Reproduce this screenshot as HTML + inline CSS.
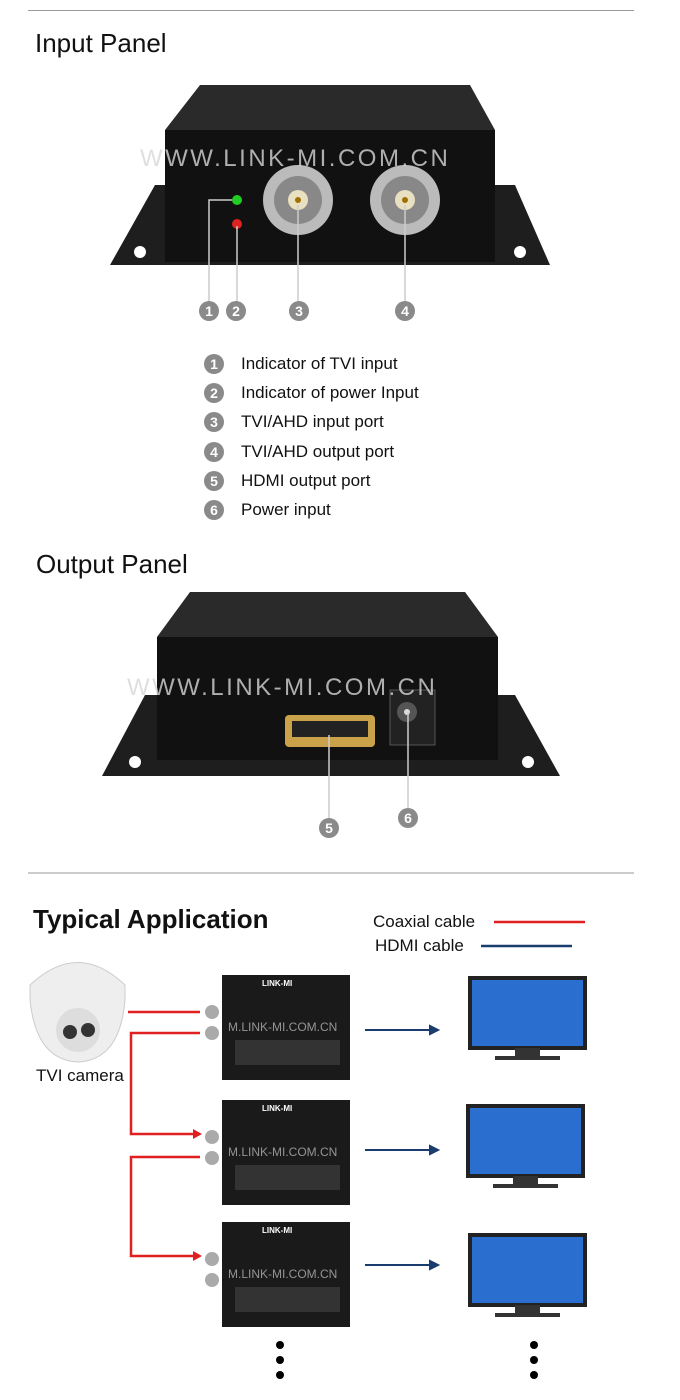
<!DOCTYPE html>
<html><head><meta charset="utf-8"><style>
body{margin:0;width:680px;height:1400px;background:#fff;position:relative;font-family:"Liberation Sans",sans-serif;overflow:hidden}
.a{position:absolute}
.t{position:absolute;white-space:nowrap;color:#111}
.n{position:absolute;width:20px;height:20px;border-radius:50%;background:#8a8a8a;color:#fff;font-weight:bold;font-size:14px;text-align:center;line-height:20px}
.wm{position:absolute;color:rgba(215,215,215,.8);font-size:24px;letter-spacing:2.5px;font-family:"Liberation Sans",sans-serif}
</style></head><body>
<div class="a" style="left:28px;top:10px;width:606px;height:1px;background:#999"></div>
<div class="t" style="left:35px;top:28px;font-size:26px">Input Panel</div>
<svg class="a" style="left:0;top:0" width="680" height="1400">
<polygon points="155,185 165,185 165,262 495,262 495,185 515,185 550,265 110,265" fill="#1e1e1e"/>
<circle cx="140" cy="252" r="6" fill="#fff"/><circle cx="520" cy="252" r="6" fill="#fff"/>
<polygon points="200,85 470,85 495,130 165,130" fill="#2a2a2a"/>
<rect x="165" y="130" width="330" height="132" fill="#111"/>
<circle cx="298" cy="200" r="35" fill="#bbb"/><circle cx="298" cy="200" r="24" fill="#888"/><circle cx="298" cy="200" r="10" fill="#e8e0c0"/><circle cx="298" cy="200" r="3" fill="#a07000"/>
<circle cx="405" cy="200" r="35" fill="#bbb"/><circle cx="405" cy="200" r="24" fill="#888"/><circle cx="405" cy="200" r="10" fill="#e8e0c0"/><circle cx="405" cy="200" r="3" fill="#a07000"/>
<circle cx="237" cy="200" r="5" fill="#2c2"/><circle cx="237" cy="224" r="5" fill="#d22"/>
<g stroke="#ccc" stroke-width="1.5" fill="none">
<polyline points="232,200 209,200 209,302"/><line x1="237" y1="226" x2="237" y2="302"/>
<line x1="298" y1="205" x2="298" y2="302"/><line x1="405" y1="205" x2="405" y2="302"/></g>
<polygon points="145,695 157,695 157,760 498,760 498,695 515,695 560,776 102,776" fill="#1e1e1e"/>
<circle cx="135" cy="762" r="6" fill="#fff"/><circle cx="528" cy="762" r="6" fill="#fff"/>
<polygon points="190,592 465,592 498,637 157,637" fill="#2a2a2a"/>
<rect x="157" y="637" width="341" height="123" fill="#111"/>
<rect x="285" y="715" width="90" height="32" rx="4" fill="#c9a24a"/><rect x="292" y="721" width="76" height="16" fill="#222"/>
<rect x="390" y="690" width="45" height="55" fill="#222" stroke="#555"/><circle cx="407" cy="712" r="10" fill="#555"/><circle cx="407" cy="712" r="3" fill="#ddd"/>
<g stroke="#ccc" stroke-width="1.5"><line x1="329" y1="735" x2="329" y2="818"/><line x1="408" y1="712" x2="408" y2="808"/></g>
<line x1="28" y1="873" x2="634" y2="873" stroke="#999"/>
<line x1="494" y1="922" x2="585" y2="922" stroke="#e02020" stroke-width="2.5"/>
<line x1="481" y1="946" x2="572" y2="946" stroke="#1a3d70" stroke-width="2.5"/>
<path d="M30,985 Q78,940 125,985 L125,1000 Q120,1060 78,1062 Q36,1060 30,1000Z" fill="#eee" stroke="#ccc"/>
<circle cx="78" cy="1030" r="22" fill="#ddd"/><circle cx="70" cy="1032" r="7" fill="#333"/><circle cx="88" cy="1030" r="7" fill="#333"/>
<g id="d">
<rect x="222" y="975" width="128" height="105" fill="#1a1a1a"/><rect x="235" y="1040" width="105" height="25" fill="#333"/>
<circle cx="212" cy="1012" r="7" fill="#aaa"/><circle cx="212" cy="1033" r="7" fill="#aaa"/>
</g>
<use href="#d" y="125"/><use href="#d" y="247"/>
<g id="m"><rect x="470" y="978" width="115" height="70" fill="#2a6fd0" stroke="#222" stroke-width="4"/><rect x="515" y="1048" width="25" height="8" fill="#333"/><rect x="495" y="1056" width="65" height="4" fill="#333"/></g>
<use href="#m" x="-2" y="128"/><use href="#m" y="257"/>
<g stroke="#1a3d70" stroke-width="2" fill="#1a3d70">
<line x1="365" y1="1030" x2="432" y2="1030"/><polygon points="438,1030 430,1026 430,1034"/>
<line x1="365" y1="1150" x2="432" y2="1150"/><polygon points="438,1150 430,1146 430,1154"/>
<line x1="365" y1="1265" x2="432" y2="1265"/><polygon points="438,1265 430,1261 430,1269"/></g>
<g stroke="#e02020" stroke-width="2.5" fill="none">
<line x1="128" y1="1012" x2="200" y2="1012"/>
<polyline points="200,1033 131,1033 131,1134 195,1134"/>
<polyline points="200,1157 131,1157 131,1256 195,1256"/></g>
<polygon points="202,1134 193,1129 193,1139" fill="#e02020"/><polygon points="202,1256 193,1251 193,1261" fill="#e02020"/>
<g fill="#000"><circle cx="280" cy="1345" r="4"/><circle cx="280" cy="1360" r="4"/><circle cx="280" cy="1375" r="4"/>
<circle cx="534" cy="1345" r="4"/><circle cx="534" cy="1360" r="4"/><circle cx="534" cy="1375" r="4"/></g>
</svg>
<div class="wm" style="left:140px;top:145px">WWW.LINK-MI.COM.CN</div>
<div class="wm" style="left:127px;top:674px">WWW.LINK-MI.COM.CN</div>
<div class="n" style="left:199px;top:301px">1</div><div class="n" style="left:226px;top:301px">2</div>
<div class="n" style="left:289px;top:301px">3</div><div class="n" style="left:395px;top:301px">4</div>
<div class="n" style="left:319px;top:818px">5</div><div class="n" style="left:398px;top:808px">6</div>
<div class="n" style="left:204px;top:354px">1</div><div class="t" style="left:241px;top:354px;font-size:17px">Indicator of TVI input</div>
<div class="n" style="left:204px;top:383px">2</div><div class="t" style="left:241px;top:383px;font-size:17px">Indicator of power Input</div>
<div class="n" style="left:204px;top:412px">3</div><div class="t" style="left:241px;top:412px;font-size:17px">TVI/AHD input port</div>
<div class="n" style="left:204px;top:442px">4</div><div class="t" style="left:241px;top:442px;font-size:17px">TVI/AHD output port</div>
<div class="n" style="left:204px;top:471px">5</div><div class="t" style="left:241px;top:471px;font-size:17px">HDMI output port</div>
<div class="n" style="left:204px;top:500px">6</div><div class="t" style="left:241px;top:500px;font-size:17px">Power input</div>
<div class="t" style="left:36px;top:549px;font-size:26px">Output Panel</div>
<div class="t" style="left:33px;top:904px;font-size:26px;font-weight:bold">Typical Application</div>
<div class="t" style="left:373px;top:912px;font-size:17px">Coaxial cable</div>
<div class="t" style="left:375px;top:936px;font-size:17px">HDMI cable</div>
<div class="t" style="left:36px;top:1066px;font-size:17px">TVI camera</div>
<div class="t" style="left:262px;top:979px;font-size:8px;color:#fff;font-weight:bold">LINK-MI</div>
<div class="t" style="left:262px;top:1104px;font-size:8px;color:#fff;font-weight:bold">LINK-MI</div>
<div class="t" style="left:262px;top:1226px;font-size:8px;color:#fff;font-weight:bold">LINK-MI</div>
<div class="t" style="left:228px;top:1020px;font-size:12px;color:rgba(200,200,200,.7)">M.LINK-MI.COM.CN</div>
<div class="t" style="left:228px;top:1145px;font-size:12px;color:rgba(200,200,200,.7)">M.LINK-MI.COM.CN</div>
<div class="t" style="left:228px;top:1267px;font-size:12px;color:rgba(200,200,200,.7)">M.LINK-MI.COM.CN</div>
</body></html>
